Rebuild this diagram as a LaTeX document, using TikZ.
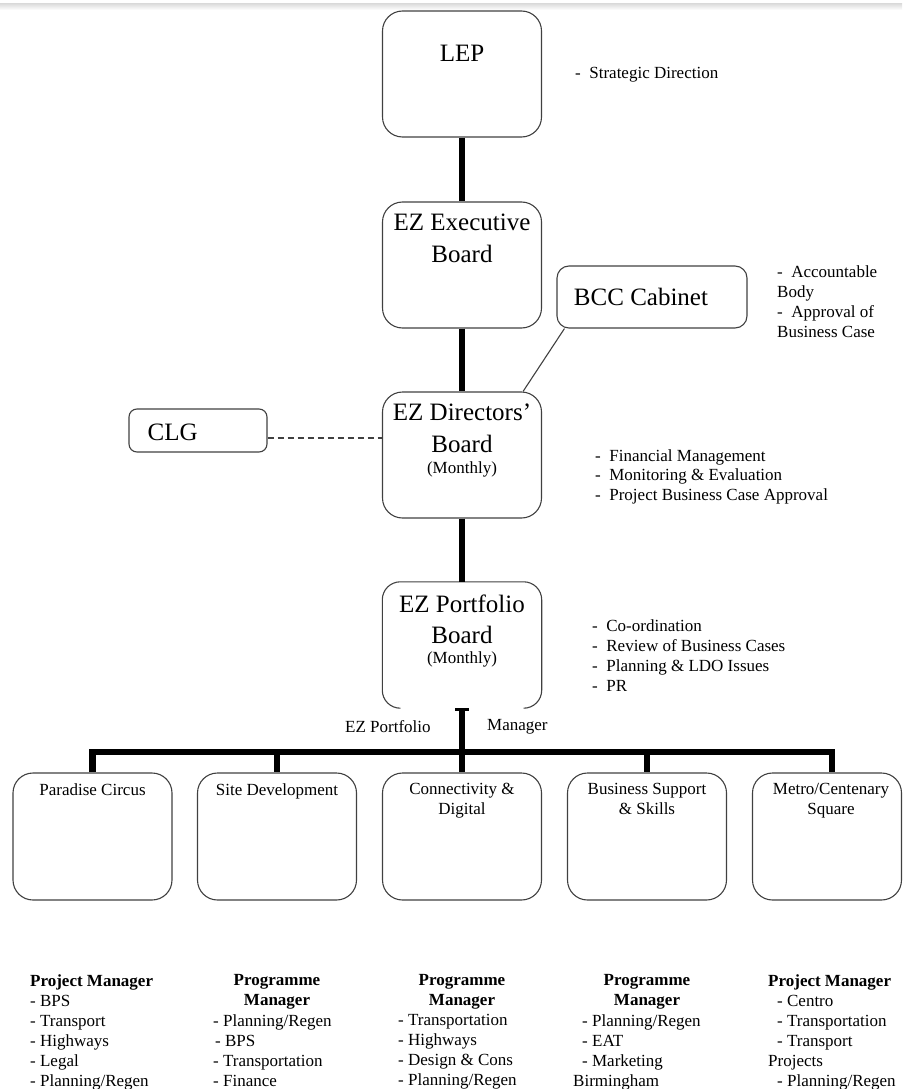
\documentclass[tikz,border=0pt]{standalone}
\usepackage{fontspec}
\setmainfont{Liberation Serif}
\usetikzlibrary{calc}
\begin{document}
\begin{tikzpicture}[x=1pt,y=-1pt,
  boxline/.style={draw=black!75, line width=1.1pt},
  board/.style={boxline, rounded corners=20pt, minimum width=159pt, minimum height=126pt, inner sep=0pt},
  unit/.style={boxline, rounded corners=20pt, minimum width=159pt, minimum height=127pt, inner sep=0pt},
  side/.style={boxline, inner sep=0pt},
  title/.style={font=\fontsize{25}{31.5}\selectfont, align=center, inner sep=0pt, anchor=north},
  small/.style={font=\fontsize{17}{20}\selectfont, inner sep=0pt},
  note/.style={small, align=left, anchor=north west},
  unittitle/.style={small, align=center, anchor=north},
  link/.style={line width=6.5pt},
  thinlink/.style={draw=black!75, line width=1.1pt}
]
\useasboundingbox (0,0) rectangle (902,1089);

% faint band along the top edge
\fill[top color=black!14, bottom color=white] (0,3.5) rectangle (902,10);

% governance boards
\node[board] (lep) at (462,74) {};
\node[title] (lepT) at ([yshift=-34pt]lep.north) {LEP};

\node[board] (exec) at (462,265) {};
\node[title] (execT) at ([yshift=-12.5pt]exec.north) {EZ Executive\\Board};

\node[side, rounded corners=12pt, minimum width=190pt, minimum height=62pt] (bcc) at (652,297) {};
\node[font=\fontsize{25}{30}\selectfont, inner sep=0pt] (bccT) at ([xshift=-11pt]bcc.center) {BCC Cabinet};

\node[board] (dir) at (462,455) {};
\node[title] (dirT) at ([yshift=-12.5pt]dir.north) {EZ Directors'\\Board};
\node[small] (dirM) at ([yshift=-78pt]dir.north) {(Monthly)};

\node[side, rounded corners=8pt, minimum width=138pt, minimum height=43pt] (clg) at (198,430.5) {};
\node[font=\fontsize{25}{30}\selectfont, inner sep=0pt, anchor=west] (clgT) at ([xshift=19pt,yshift=-2pt]clg.west) {CLG};

% portfolio board: outline left open along the bottom
\node[minimum width=159pt, minimum height=126pt, inner sep=0pt] (port) at (462,645) {};
\draw[boxline, rounded corners=18pt] ([xshift=18pt]port.south west) -- (port.south west) -- (port.north west)
  -- (port.north east) -- (port.south east) -- ([xshift=-18pt]port.south east);
\node[title] (portT) at ([yshift=-12.5pt]port.north) {EZ Portfolio\\Board};
\node[small] (portM) at ([yshift=-78pt]port.north) {(Monthly)};

% remits
\node[note] (lepN) at (575,67) {-~~Strategic Direction};
\node[note] (bccN) at (777,266) {-~~Accountable\\Body\\-~~Approval of\\Business Case};
\node[note, font=\fontsize{17}{19.5}\selectfont] (dirN) at (595,449) {-~~Financial Management\\-~~Monitoring \& Evaluation\\-~~Project Business Case Approval};
\node[note] (portN) at (592,619) {-~~Co-ordination\\-~~Review of Business Cases\\-~~Planning \& LDO Issues\\-~~PR};

% workstreams
\node[unit] (u1) at (92.5,836.5) {};
\node[unit] (u2) at (277,836.5) {};
\node[unit] (u3) at (462,836.5) {};
\node[unit] (u4) at (647,836.5) {};
\node[unit, minimum width=149pt] (u5) at (827,836.5) {};
\node[unittitle] (u1T) at ([yshift=-11pt]u1.north) {Paradise Circus};
\node[unittitle] (u2T) at ([yshift=-11pt]u2.north) {Site Development};
\node[unittitle] (u3T) at ([yshift=-11pt]u3.north) {Connectivity \&\\Digital};
\node[unittitle] (u4T) at ([yshift=-11pt]u4.north) {Business Support\\\& Skills};
\node[unittitle] (u5T) at ([xshift=4pt,yshift=-11pt]u5.north) {Metro/Centenary\\Square};

% reporting lines
\draw[link] (lep.south) -- (exec.north);
\draw[link] (exec.south) -- (dir.north);
\draw[link] (dir.south) -- (port.north);
\coordinate (bar) at (462,752);
\coordinate (d5) at ($(u5.north)+(5,0)$);
\draw[link] (port.south) -- (bar);
\draw[line width=3pt] ([xshift=-7pt,yshift=-1pt]port.south) -- ([xshift=7pt,yshift=-1pt]port.south);
\draw[link, line join=miter] (u1.north) -- (u1.north |- bar) -- (d5 |- bar) -- (d5);
\draw[link] (u2.north |- bar) -- (u2.north);
\draw[link] (u3.north |- bar) -- (u3.north);
\draw[link] (u4.north |- bar) -- (u4.north);
\draw[thinlink] ([xshift=8pt]bcc.south west) -- ([xshift=-19pt]dir.north east);
\draw[thinlink, dash pattern=on 6pt off 4pt] ([yshift=-7.5pt]clg.east) -- ([yshift=-7.5pt]clg.east -| dir.west);

\node[small, anchor=west] (pmL) at (345,727) {EZ Portfolio};
\node[small, anchor=west] (pmR) at (487,727) {Manager};

% staffing under each workstream
\node[note] (s1) at (30,974) {\textbf{Project Manager}\\- BPS\\- Transport\\- Highways\\- Legal\\- Planning/Regen};
\node[unittitle] (h2) at (277,974) {\textbf{Programme}\\\textbf{Manager}};
\node[note] (s2) at (213,1014) {- Planning/Regen\\\hspace*{2pt}- BPS\\- Transportation\\- Finance};
\node[unittitle] (h3) at (462,974) {\textbf{Programme}\\\textbf{Manager}};
\node[note] (s3) at (398,1014) {- Transportation\\- Highways\\- Design \& Cons\\- Planning/Regen};
\node[unittitle] (h4) at (647,974) {\textbf{Programme}\\\textbf{Manager}};
\node[note] (s4) at (573,1014) {\hspace*{9pt}- Planning/Regen\\\hspace*{9pt}- EAT\\\hspace*{9pt}- Marketing\\Birmingham};
\node[note] (s5) at (768,974) {\textbf{Project Manager}\\\hspace*{9pt}- Centro\\\hspace*{9pt}- Transportation\\\hspace*{9pt}- Transport\\Projects\\\hspace*{9pt}- Planning/Regen};
\end{tikzpicture}
\end{document}
